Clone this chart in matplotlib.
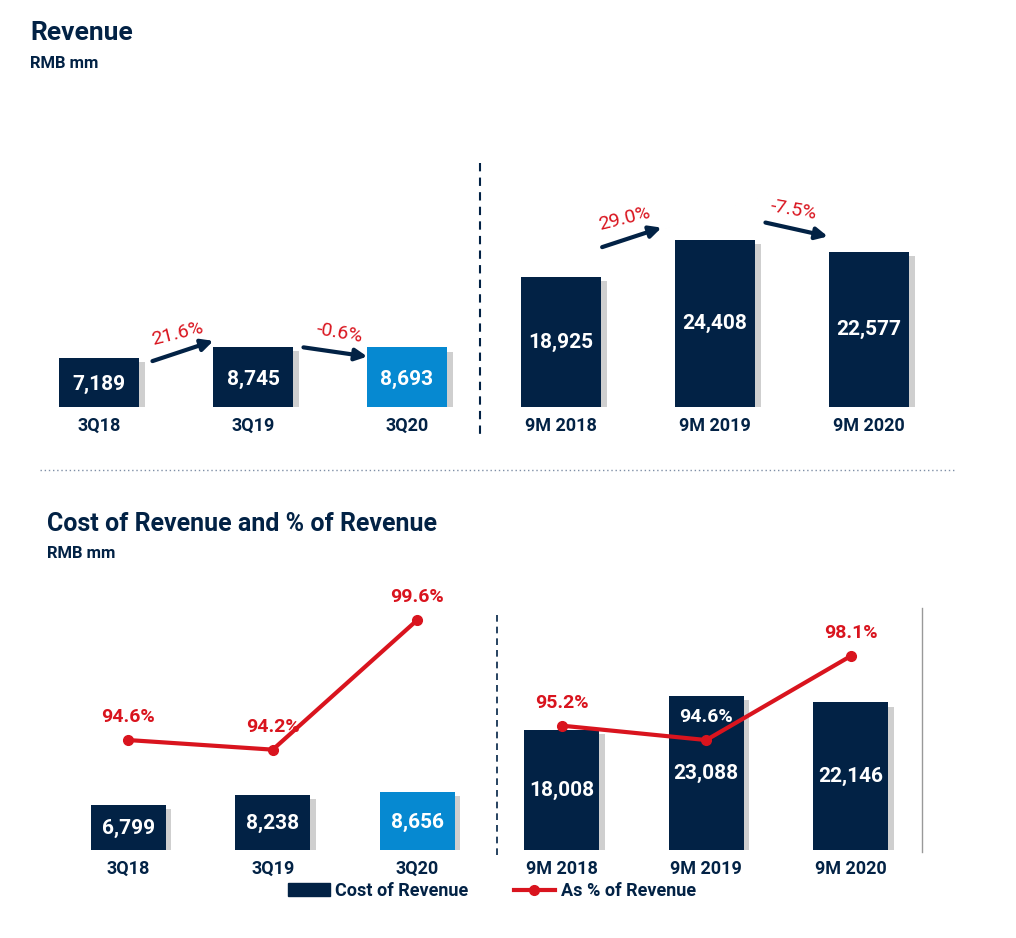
import matplotlib
matplotlib.use("Agg")
import matplotlib.pyplot as plt
import matplotlib.patheffects as pe
from matplotlib.lines import Line2D
from matplotlib.patches import Patch

plt.rcParams['font.family'] = ['Liberation Sans Narrow', 'Roboto', 'DejaVu Sans']
plt.rcParams['font.weight'] = 'bold'

NAVY = "#022245"
BLUE = "#0689d1"
RED = "#d9141e"

# Data
rev_cats = ["3Q18", "3Q19", "3Q20", "9M 2018", "9M 2019", "9M 2020"]
revenue = [7189, 8745, 8693, 18925, 24408, 22577]
rev_growth = ["21.6%", "-0.6%", "29.0%", "-7.5%"]
cost = [6799, 8238, 8656, 18008, 23088, 22146]
cost_pct = [94.6, 94.2, 99.6, 95.2, 94.6, 98.1]
bar_colors = [NAVY, NAVY, BLUE, NAVY, NAVY, NAVY]

W, H = 1016, 938
fig = plt.figure(figsize=(W / 100, H / 100), dpi=100)


def px_axes(left, right, top, bottom):
    return fig.add_axes([left / W, 1 - bottom / H, (right - left) / W, (bottom - top) / H])


shadow = [pe.SimplePatchShadow(offset=(4, -3), shadow_rgbFace="#b0b0b0", alpha=0.6), pe.Normal()]

# ---- Revenue ----
ax1 = px_axes(22, 946, 150, 407)
x = list(range(6))
bars = ax1.bar(x, revenue, width=0.52, color=bar_colors, path_effects=shadow)
ax1.set_xlim(-0.5, 5.5)
ax1.set_ylim(0, 37500)
ax1.axis("off")
for xi, v in zip(x, revenue):
    ax1.text(xi, v / 2 if v > 10000 else v / 2 - 300, f"{v:,}", color="white", ha="center",
             va="center", fontsize=15, fontweight="bold")
    ax1.text(xi, -1500, rev_cats[xi], color=NAVY, ha="center", va="top", fontsize=13, fontweight="bold")

arrows = [((0.33, 6570), (0.76, 9780)), ((1.31, 8760), (1.76, 7300)),
          ((3.25, 23200), (3.67, 26300)), ((4.31, 27000), (4.75, 24800))]
lbl_pos = [(0.51, 10700, 14), (1.56, 10800, -10), (3.41, 27500, 14), (4.51, 28700, -10)]
for (s, e), (lx, ly, rot), txt in zip(arrows, lbl_pos, rev_growth):
    ax1.annotate("", xy=e, xytext=s,
                 arrowprops=dict(arrowstyle="-|>,head_length=0.7,head_width=0.35", color=NAVY, lw=3))
    ax1.text(lx, ly, txt, color=RED, ha="center", va="center", fontsize=14, rotation=rot, fontweight="normal")

# ---- Cost of revenue ----
ax2 = px_axes(56, 923, 590, 850)
ax2.bar(x, cost, width=0.52, color=bar_colors, path_effects=shadow)
ax2.set_xlim(-0.5, 5.5)
ax2.set_ylim(0, 39000)
ax2.axis("off")
for xi, v in zip(x, cost):
    ax2.text(xi, v / 2 if v > 10000 else v / 2 - 200, f"{v:,}", color="white", ha="center",
             va="center", fontsize=15, fontweight="bold")
    ax2.text(xi, -1500, rev_cats[xi], color=NAVY, ha="center", va="top", fontsize=13, fontweight="bold")

ax3 = ax2.twinx()
ax3.set_ylim(90.02, 100.85)
ax3.axis("off")
ax3.plot(x[:3], cost_pct[:3], color=RED, lw=3, marker="o", ms=7)
ax3.plot(x[3:], cost_pct[3:], color=RED, lw=3, marker="o", ms=7)
for xi, p in zip(x, cost_pct):
    inside = xi == 4
    ax3.text(xi, p + (0.95 if inside else 0.95), f"{p:.1f}%",
             color="white" if inside else RED, ha="center", va="center", fontsize=14, fontweight="bold")

# ---- titles, separators, legend ----
fig.text(30 / W, 1 - 33 / H, "Revenue", color=NAVY, fontsize=19, fontweight="bold", va="center")
fig.text(30 / W, 1 - 64 / H, "RMB mm", color=NAVY, fontsize=12, fontweight="bold", va="center")
fig.text(47 / W, 1 - 524 / H, "Cost of Revenue and % of Revenue", color=NAVY, fontsize=18,
         fontweight="bold", va="center")
fig.text(47 / W, 1 - 553 / H, "RMB mm", color=NAVY, fontsize=12, fontweight="bold", va="center")

fig.add_artist(Line2D([40 / W, 955 / W], [1 - 470 / H] * 2, color="#7f8fa6", lw=1, ls=(0, (1, 2))))
fig.add_artist(Line2D([480 / W] * 2, [1 - 163 / H, 1 - 440 / H], color=NAVY, lw=1.5, ls=(0, (4, 3))))
fig.add_artist(Line2D([497 / W] * 2, [1 - 615 / H, 1 - 855 / H], color=NAVY, lw=1.2, ls=(0, (4, 3))))
fig.add_artist(Line2D([922 / W] * 2, [1 - 608 / H, 1 - 852 / H], color="#999999", lw=1))

handles = [Patch(color=NAVY, label="Cost of Revenue"),
           Line2D([], [], color=RED, lw=3, marker="o", ms=7, label="As % of Revenue")]
fig.legend(handles=handles, loc="center", bbox_to_anchor=(492 / W, 1 - 891 / H), ncol=2,
           frameon=False, fontsize=13, handlelength=2.3, columnspacing=2.5,
           labelcolor=NAVY, handletextpad=0.3)

fig.savefig("out.png", dpi=100, facecolor="white")
